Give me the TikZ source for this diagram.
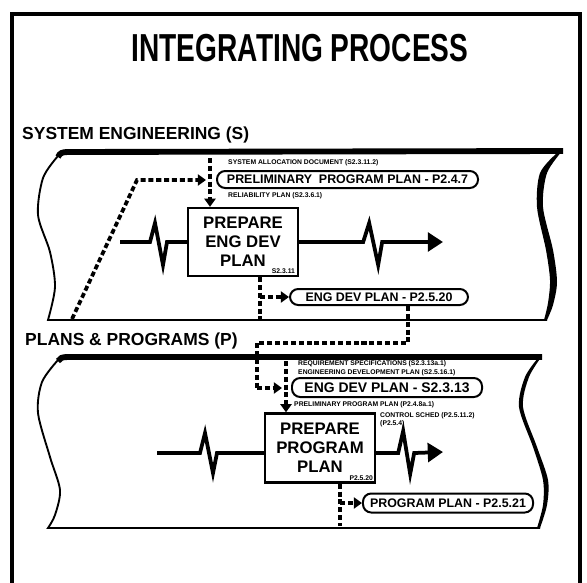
\documentclass[tikz,border=0pt]{standalone}
\usepackage{fontspec}
\setmainfont{Liberation Sans}
\newfontfamily\condfont[FakeStretch=0.72]{Liberation Sans}
\usetikzlibrary{arrows.meta,calc,positioning}

\begin{document}
\begin{tikzpicture}[
  x=0.03cm, y=-0.03cm,
  heading/.style={anchor=west, inner sep=0pt, font=\bfseries\fontsize{14.9}{16}\selectfont},
  process/.style={draw, line width=2pt, minimum width=3.3cm, minimum height=2.04cm, inner sep=0pt, align=center, font=\bfseries\fontsize{14.3}{16.2}\selectfont},
  doc/.style={draw, line width=1.7pt, rounded corners=7pt, inner sep=0pt, fill=white, font=\bfseries\fontsize{10.6}{12}\selectfont},
  tiny/.style={anchor=west, inner sep=0pt, font=\bfseries\fontsize{5.8}{7}\selectfont},
  flow/.style={line width=3.2pt, dash pattern=on 4.3pt off 2.4pt},
  tip/.style={-{Triangle[length=7pt,width=9.5pt]}},
  main/.style={line width=3.2pt},
  bigtip/.style={-{Triangle[length=13pt,width=16pt]}},
  edge/.style={line width=1.6pt},
  rim/.style={line width=5pt}
]
\useasboundingbox (0,0) rectangle (587,582);
\fill[white] (0,0) rectangle (587,582);
\draw[line width=2.6pt] (12,600) -- (12,14) -- (580,14) -- (580,600);

\node[inner sep=0pt, font=\condfont\bfseries\fontsize{33.3}{36}\selectfont] (title) at (300,48) {INTEGRATING PROCESS};
\node[heading] (selabel) at (22,135) {SYSTEM ENGINEERING (S)};
\node[heading] (pplabel) at (25,341) {PLANS \& PROGRAMS (P)};

% system engineering band
\draw[rim] (58,157) .. controls (60,153) and (62,152) .. (68,152) -- (563,151);
\draw[edge] plot[smooth] coordinates {(58,156) (43,178) (38,215) (50,252) (55,287) (48,320)} -- (547,320);
\fill plot[smooth] coordinates {(563,150) (547,173) (543,207) (553,250) (557,282) (553,305) (547,320)}
  -- plot[smooth] coordinates {(544,320) (548,303) (550,280) (546,250) (537,207) (540,173) (557,153)} -- cycle;

\node[doc, minimum width=7.83cm, minimum height=0.51cm] (ppp) at (347.5,179.5) {PRELIMINARY\ \ PROGRAM PLAN - P2.4.7};
\node[tiny] (sad) at (228,163) {SYSTEM ALLOCATION DOCUMENT (S2.3.11.2)};
\node[tiny] (rel) at (228,196) {RELIABILITY PLAN (S2.3.6.1)};
\node[process] (engdev) at (243,242) {PREPARE\\ENG DEV\\PLAN};
\node[tiny, anchor=south east] (engdevref) at ($(engdev.south east)+(-4,-3)$) {S2.3.11};
\node[doc, minimum width=5.34cm, minimum height=0.48cm] (edp) at (379,297) {ENG DEV PLAN - P2.5.20};

\coordinate (v1top) at (210,158);
\coordinate (diagfoot) at (72,319);
\coordinate (diagknee) at (137,180);
\coordinate (v1in) at (206,180);
\coordinate (v2foot) at (260,320);
\draw[flow,tip] (v1top) -- (v1top |- engdev.north);
\draw[flow,tip] (diagfoot) -- (diagknee) -- (v1in);
\draw[flow] (engdev.south -| v2foot) -- (v2foot);
\draw[flow,tip] (v2foot |- edp) -- (edp.west);

\coordinate (in1) at (120,242);
\coordinate (out1) at (443,242);
\draw[main] (in1) -- ++(30,0) -- ++(5,-19) -- ++(8,42) -- ++(4,-23) -- (engdev.west);
\draw[main,bigtip] (engdev.east) -- ++(64,0) -- ++(6,-19) -- ++(9,42) -- ++(4,-23) -- (out1);

% plans and programs band
\draw[rim] (58,361) .. controls (60,358) and (62,357) .. (68,357) -- (542,357);
\draw[edge] plot[smooth] coordinates {(58,360) (42,382) (38,413) (50,457) (60,490) (55,515) (48,528)} -- (540,528);
\fill plot[smooth] coordinates {(542,356) (529,377) (523,407) (537,447) (548,480) (547,505) (540,528)}
  -- plot[smooth] coordinates {(537,528) (543,505) (543,480) (533,447) (519,407) (525,377) (538,358)} -- cycle;

\node[doc, minimum width=5.7cm, minimum height=0.57cm, font=\bfseries\fontsize{11.9}{13}\selectfont] (eds) at (387,387.5) {ENG DEV PLAN - S2.3.13};
\node[tiny] (reqs) at (298,364) {REQUIREMENT SPECIFICATIONS (S2.3.13a.1)};
\node[tiny] (engp) at (298,373) {ENGINEERING DEVELOPMENT PLAN (S2.5.16.1)};
\node[tiny] (prelim) at (294,405) {PRELIMINARY PROGRAM PLAN (P2.4.8a.1)};
\node[process, minimum height=2.07cm] (progplan) at (320,448) {PREPARE\\PROGRAM\\PLAN};
\node[tiny, anchor=south east] (progref) at ($(progplan.south east)+(-3,-3)$) {P2.5.20};
\node[tiny, align=left, anchor=north west] (ctrl) at (380,412) {CONTROL SCHED (P2.5.11.2)\\(P2.5.4)};
\node[doc, minimum width=5.1cm, minimum height=0.57cm] (pp21) at (448,503) {PROGRAM PLAN - P2.5.21};

\coordinate (v3up) at (408,343);
\coordinate (v3left) at (257,343);
\coordinate (v3end) at (282,388);
\coordinate (v4top) at (286,361);
\coordinate (v5foot) at (340,526);
\draw[flow] (edp.south -| v3up) -- (v3up) -- (v3left) -- (v3left |- v3end);
\draw[flow,tip] (v3left |- v3end) -- (v3end);
\draw[flow,tip] (v4top) -- (v4top |- progplan.north);
\draw[flow] (progplan.south -| v5foot) -- (v5foot);
\draw[flow,tip] (v5foot |- pp21) -- (pp21.west);

\coordinate (in2) at (157,453);
\coordinate (out2) at (443,452);
\draw[main] (in2) -- ++(43,0) -- ++(5,-20) -- ++(8,40) -- ++(4,-20) -- (in2 -| progplan.west);
\draw[main,bigtip] (in2 -| progplan.east) -- ++(22,0) -- ++(5,-22) -- ++(7,43) -- ++(4,-21) -- (out2);
\end{tikzpicture}
\end{document}
